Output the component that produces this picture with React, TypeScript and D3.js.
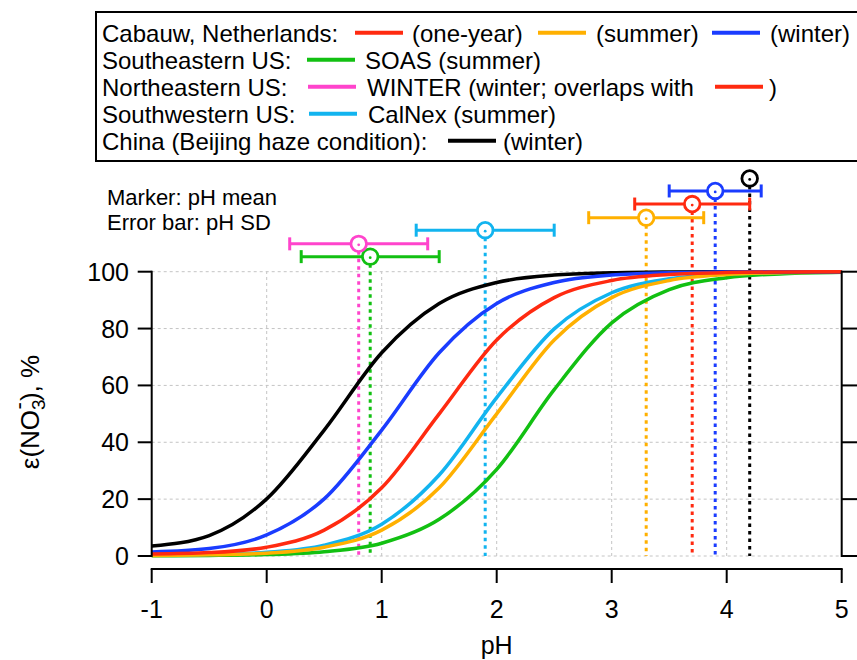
import React from "react";
import * as d3 from "d3";

// pH grid the curves were read at
const phValues = [-1, -0.5, 0, 0.5, 1, 1.5, 2, 2.5, 3, 3.5, 4, 4.5, 5];

// epsilon(NO3-) in %
const chinaEps = [3.5, 7.2, 20.1, 44.3, 71.5, 88.8, 96.2, 98.8, 99.6, 99.9, 100, 100, 100];
const winterEps = [1.4, 2.6, 7.4, 20.1, 44.3, 71.5, 88.8, 96.2, 98.8, 99.6, 99.9, 100, 100];
const oneYearEps = [0.7, 1.2, 3.1, 9.1, 24.0, 50.0, 76.0, 90.9, 96.9, 99.0, 99.7, 99.9, 100];
const calnexEps = [0.3, 0.5, 1.3, 3.8, 11.2, 28.5, 55.7, 79.9, 92.6, 97.5, 99.2, 99.7, 99.9];
const summerEps = [0.2, 0.4, 1.0, 3.1, 9.1, 24.0, 50.0, 76.0, 90.9, 96.9, 99.0, 99.7, 99.9];
const soasEps = [0.1, 0.2, 0.5, 1.5, 4.5, 12.9, 30.5, 58.5, 82.0, 93.7, 97.9, 99.3, 99.8];

// markers: pH mean, pH SD and the level (in y units) they sit at above the plot
const markerNames = ["soas", "winterNE", "calnex", "summer", "oneYear", "winter", "china"];
const markerMean = [0.9, 0.8, 1.9, 3.3, 3.7, 3.9, 4.2];
const markerSD = [0.6, 0.6, 0.6, 0.5, 0.5, 0.4, 0];
const markerLevel = [105.3, 109.8, 114.6, 119, 123.8, 128.4, 132.8];

const xTicks = [-1, 0, 1, 2, 3, 4, 5];
const yTicks = [0, 20, 40, 60, 80, 100];

const colors = {
  china: "#000000",
  winter: "#1a3cff",
  oneYear: "#ff2a10",
  calnex: "#12b4ef",
  summer: "#ffb000",
  soas: "#12c012",
  winterNE: "#ff44cc",
};

const curves = [
  { key: "soas", values: soasEps },
  { key: "calnex", values: calnexEps },
  { key: "summer", values: summerEps },
  { key: "china", values: chinaEps },
  { key: "winter", values: winterEps },
  { key: "oneYear", values: oneYearEps },
];

const FONT = "'Liberation Sans', Arial, sans-serif";

export default function App() {
  const width = 857;
  const height = 660;

  const x = d3.scaleLinear().domain([-1, 5]).range([151.7, 841.7]);
  const y = d3.scaleLinear().domain([0, 100]).range([556, 271.7]);
  const axisY = 569; // detached bottom axis

  const line = d3
    .line<[number, number]>()
    .x((d) => x(d[0]))
    .y((d) => y(d[1]))
    .curve(d3.curveMonotoneX);

  // legend rows: text pieces and line samples (x positions in px)
  const legendRows = [
    [
      { t: "Cabauw, Netherlands:", x: 102 },
      { c: "oneYear", x: 355 },
      { t: "(one-year)", x: 412 },
      { c: "summer", x: 538 },
      { t: "(summer)", x: 596 },
      { c: "winter", x: 712 },
      { t: "(winter)", x: 770 },
    ],
    [
      { t: "Southeastern US:", x: 102 },
      { c: "soas", x: 307 },
      { t: "SOAS (summer)", x: 365 },
    ],
    [
      { t: "Northeastern US:", x: 102 },
      { c: "winterNE", x: 308 },
      { t: "WINTER (winter; overlaps with", x: 367 },
      { c: "oneYear", x: 715 },
      { t: ")", x: 769 },
    ],
    [
      { t: "Southwestern US:", x: 102 },
      { c: "calnex", x: 309 },
      { t: "CalNex (summer)", x: 368 },
    ],
    [
      { t: "China (Beijing haze condition):", x: 102 },
      { c: "china", x: 448 },
      { t: "(winter)", x: 503 },
    ],
  ];

  return (
    <svg width={width} height={height} style={{ position: "absolute", left: 0, top: 0, background: "#fff" }}>
      <rect width={width} height={height} fill="#fff" />

      {/* legend */}
      <rect x={96} y={12} width={800} height={149} fill="#fff" stroke="#000" strokeWidth={2} />
      {legendRows.map((row, i) => {
        const base = 41.7 + i * 27;
        return (
          <g key={i}>
            {row.map((item: any, j) =>
              item.t ? (
                <text key={j} x={item.x} y={base} fontFamily={FONT} fontSize={24} fill="#000">
                  {item.t}
                </text>
              ) : (
                <line key={j} x1={item.x} x2={item.x + 48} y1={base - 9} y2={base - 9}
                  stroke={(colors as any)[item.c]} strokeWidth={4} />
              )
            )}
          </g>
        );
      })}

      <text x={107} y={205} fontFamily={FONT} fontSize={22}>Marker: pH mean</text>
      <text x={107} y={230} fontFamily={FONT} fontSize={22}>Error bar: pH SD</text>

      {/* grid */}
      {yTicks.map((t) => (
        <line key={"gy" + t} x1={x(-1)} x2={x(5)} y1={y(t)} y2={y(t)}
          stroke="#c4c4c4" strokeWidth={1} strokeDasharray="3,3" />
      ))}
      {xTicks.slice(1, -1).map((t) => (
        <line key={"gx" + t} x1={x(t)} x2={x(t)} y1={y(0)} y2={y(100)}
          stroke="#c4c4c4" strokeWidth={1} strokeDasharray="3,3" />
      ))}

      {/* dotted drop lines from the markers */}
      {markerNames.map((k, i) => (
        <line key={"drop" + k} x1={x(markerMean[i])} x2={x(markerMean[i])}
          y1={y(markerLevel[i])} y2={y(0)}
          stroke={(colors as any)[k]} strokeWidth={3} strokeDasharray="3.5,4" />
      ))}

      {/* curves */}
      {curves.map((c) => (
        <path key={c.key} d={line(phValues.map((p, i) => [p, c.values[i]]) as [number, number][]) || ""}
          fill="none" stroke={(colors as any)[c.key]} strokeWidth={3.5} />
      ))}

      {/* error bars and markers */}
      {markerNames.map((k, i) => {
        const col = (colors as any)[k];
        const cy = y(markerLevel[i]);
        const sd = markerSD[i];
        return (
          <g key={"m" + k}>
            {sd > 0 && (
              <g stroke={col} strokeWidth={3}>
                <line x1={x(markerMean[i] - sd)} x2={x(markerMean[i] + sd)} y1={cy} y2={cy} />
                <line x1={x(markerMean[i] - sd)} x2={x(markerMean[i] - sd)} y1={cy - 6.5} y2={cy + 6.5} />
                <line x1={x(markerMean[i] + sd)} x2={x(markerMean[i] + sd)} y1={cy - 6.5} y2={cy + 6.5} />
              </g>
            )}
            <circle cx={x(markerMean[i])} cy={cy} r={7.8} fill="#fff" stroke={col} strokeWidth={2.8} />
            <circle cx={x(markerMean[i])} cy={cy + 1} r={1.4} fill={col} />
          </g>
        );
      })}

      {/* left axis */}
      <line x1={x(-1)} x2={x(-1)} y1={y(100) - 1} y2={y(0) + 1} stroke="#000" strokeWidth={2} />
      {yTicks.map((t) => (
        <g key={"ly" + t}>
          <line x1={x(-1) - 14} x2={x(-1)} y1={y(t)} y2={y(t)} stroke="#000" strokeWidth={2} />
          <text x={129} y={y(t) + 9} textAnchor="end" fontFamily={FONT} fontSize={25}>{t}</text>
        </g>
      ))}

      {/* right axis */}
      <line x1={x(5)} x2={x(5)} y1={y(100) - 1} y2={y(0) + 1} stroke="#000" strokeWidth={2} />
      {yTicks.map((t) => (
        <line key={"ry" + t} x1={x(5)} x2={x(5) + 16} y1={y(t)} y2={y(t)} stroke="#000" strokeWidth={2} />
      ))}

      {/* bottom axis */}
      <line x1={x(-1) - 1} x2={x(5) + 1} y1={axisY} y2={axisY} stroke="#000" strokeWidth={2} />
      {xTicks.map((t) => (
        <g key={"bx" + t}>
          <line x1={x(t)} x2={x(t)} y1={axisY} y2={axisY + 14} stroke="#000" strokeWidth={2} />
          <text x={x(t)} y={618} textAnchor="middle" fontFamily={FONT} fontSize={25}>{t}</text>
        </g>
      ))}
      <text x={x(2)} y={654} textAnchor="middle" fontFamily={FONT} fontSize={25}>pH</text>

      {/* y title */}
      <text transform="translate(39,412) rotate(-90)" textAnchor="middle" fontFamily={FONT} fontSize={26}>
        ε(NO
        <tspan fontSize={19} dy={6}>3</tspan>
        <tspan fontSize={22} dx={-10} dy={-19}>-</tspan>
        <tspan dx={1} dy={13}>), %</tspan>
      </text>
    </svg>
  );
}
